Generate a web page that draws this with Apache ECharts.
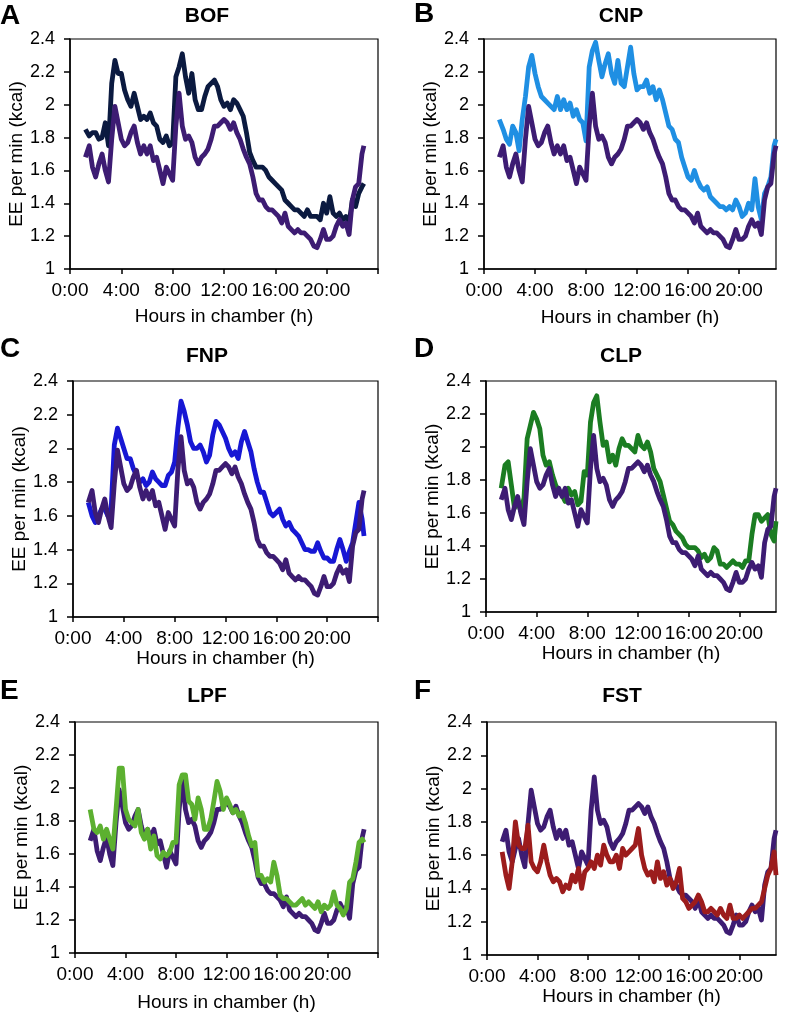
<!DOCTYPE html>
<html>
<head>
<meta charset="utf-8">
<script src="https://cdn.jsdelivr.net/npm/echarts@6/dist/echarts.min.js"></script>
<style>
html,body{margin:0;padding:0;background:#fff;}
#chart{width:792px;height:1015px;}
</style>
</head>
<body>
<div id="chart"></div>
<script>
// ---------- DATA ----------
const hours = [1.2,1.5,1.75,
 2,2.25,2.5,2.75, 3,3.25,3.5,3.75, 4,4.25,4.5,4.75, 5,5.25,5.5,5.75,
 6,6.25,6.5,6.75, 7,7.25,7.5,7.75, 8,8.25,8.5,8.75, 9,9.25,9.5,9.75,
 10,10.25,10.5,10.75, 11,11.25,11.5,11.75, 12,12.25,12.5,12.75, 13,13.25,13.5,13.75,
 14,14.25,14.5,14.75, 15,15.25,15.5,15.75, 16,16.25,16.5,16.75, 17,17.25,17.5,17.75,
 18,18.25,18.5,18.75, 19,19.25,19.5,19.75, 20,20.25,20.5,20.75, 21,21.25,21.5,21.75,
 22,22.25,22.5,22.75, 22.9];

// reference (purple) curve shown in every panel
const baseline = [1.68,1.75,1.62,
 1.56,1.64,1.70,1.60, 1.53,1.79,1.99,1.89, 1.79,1.75,1.77,1.83, 1.87,1.77,1.70,1.75,
 1.70,1.75,1.66,1.68, 1.60,1.52,1.62,1.58, 1.54,1.87,2.07,1.87, 1.79,1.81,1.77,1.68,
 1.64,1.68,1.70,1.73, 1.79,1.87,1.87,1.89, 1.91,1.89,1.85,1.89, 1.83,1.79,1.73,1.68,
 1.64,1.56,1.46,1.42, 1.42,1.38,1.36,1.36, 1.34,1.32,1.28,1.34, 1.26,1.24,1.22,1.24,
 1.22,1.22,1.20,1.18, 1.14,1.13,1.18,1.24, 1.18,1.18,1.20,1.26, 1.30,1.26,1.28,1.21,
 1.42,1.50,1.52,1.70, 1.75];

const bof = [1.85,1.81,1.83,
 1.83,1.79,1.80,1.89, 1.75,2.13,2.27,2.19, 2.19,2.09,2.03,1.99, 2.07,1.99,1.91,1.93,
 1.91,1.95,1.89,1.87, 1.79,1.77,1.81,1.75, 1.77,2.17,2.23,2.31, 2.17,2.07,2.19,2.03,
 1.97,1.97,2.05,2.11, 2.13,2.15,2.11,2.03, 1.99,2.01,1.97,2.03, 2.01,1.97,1.93,1.83,
 1.71,1.66,1.62,1.62, 1.62,1.60,1.56,1.54, 1.52,1.50,1.48,1.42, 1.40,1.38,1.36,1.36,
 1.34,1.32,1.36,1.32, 1.32,1.32,1.30,1.40, 1.34,1.44,1.34,1.32, 1.34,1.30,1.32,1.28,
 1.42,1.38,1.46,1.50, 1.52];

const cnp = [1.91,1.85,1.79,
 1.76,1.87,1.83,1.72, 1.91,2.05,2.23,2.30, 2.19,2.11,2.05,2.03, 2.01,1.99,1.97,2.05,
 1.97,2.03,1.97,2.01, 1.93,1.97,1.91,1.89, 1.78,2.23,2.33,2.38, 2.27,2.17,2.25,2.31,
 2.19,2.13,2.27,2.13, 2.11,2.23,2.35,2.19, 2.09,2.11,2.11,2.15, 2.07,2.11,2.03,2.09,
 2.03,1.95,1.87,1.85, 1.79,1.77,1.68,1.62, 1.56,1.54,1.60,1.54, 1.50,1.48,1.50,1.44,
 1.42,1.40,1.38,1.38, 1.36,1.38,1.36,1.42, 1.38,1.32,1.34,1.40, 1.36,1.55,1.38,1.30,
 1.46,1.50,1.56,1.75, 1.79];

const fnp = [1.68,1.60,1.56,
 1.60,1.64,1.64,1.60, 1.64,2.02,2.12,2.06, 2.00,1.94,1.94,1.88, 1.84,1.80,1.82,1.78,
 1.80,1.86,1.82,1.80, 1.78,1.78,1.84,1.86, 1.92,2.12,2.28,2.22, 2.14,2.04,2.00,2.00,
 2.02,1.98,1.92,1.96, 2.08,2.16,2.14,2.10, 2.06,2.00,1.96,1.98, 1.94,2.04,2.10,2.04,
 1.98,1.88,1.80,1.74, 1.74,1.68,1.62,1.60, 1.62,1.64,1.58,1.54, 1.56,1.52,1.50,1.48,
 1.44,1.40,1.40,1.39, 1.39,1.44,1.39,1.35, 1.35,1.33,1.33,1.40, 1.46,1.40,1.33,1.39,
 1.44,1.56,1.68,1.58, 1.48];

const clp = [1.75,1.89,1.91,
 1.77,1.63,1.67,1.61, 1.69,2.05,2.13,2.21, 2.17,2.11,1.95,1.89, 1.91,1.83,1.77,1.73,
 1.71,1.67,1.75,1.71, 1.73,1.65,1.67,1.85, 1.83,2.15,2.27,2.31, 2.15,2.01,2.03,1.91,
 1.95,1.89,1.99,2.05, 2.01,2.01,1.99,1.97, 2.07,2.01,1.99,2.03, 1.97,1.87,1.83,1.79,
 1.71,1.63,1.55,1.53, 1.49,1.47,1.45,1.41, 1.39,1.39,1.39,1.37, 1.33,1.35,1.31,1.33,
 1.39,1.37,1.29,1.29, 1.27,1.29,1.31,1.29, 1.29,1.27,1.31,1.31, 1.47,1.59,1.59,1.55,
 1.57,1.59,1.47,1.43, 1.55];

const lpf = [1.87,1.75,1.73,
 1.77,1.69,1.75,1.69, 1.63,1.87,2.12,2.12, 1.87,1.81,1.79,1.77, 1.87,1.73,1.69,1.75,
 1.63,1.71,1.59,1.57, 1.61,1.59,1.61,1.67, 1.67,2.02,2.08,2.08, 1.92,1.90,1.81,1.94,
 1.87,1.75,1.75,1.81, 1.92,2.04,1.98,1.87, 1.94,1.90,1.85,1.87, 1.83,1.85,1.79,1.71,
 1.65,1.67,1.47,1.47, 1.43,1.45,1.43,1.55, 1.47,1.35,1.33,1.33, 1.31,1.29,1.29,1.31,
 1.33,1.29,1.31,1.29, 1.27,1.31,1.25,1.29, 1.27,1.29,1.37,1.29, 1.27,1.23,1.27,1.43,
 1.45,1.55,1.67,1.69, 1.67];

const fst = [1.62,1.48,1.40,
 1.56,1.80,1.66,1.64, 1.64,1.78,1.56,1.52, 1.50,1.56,1.66,1.56, 1.48,1.44,1.46,1.44,
 1.38,1.42,1.40,1.48, 1.44,1.52,1.40,1.50, 1.52,1.56,1.52,1.60, 1.54,1.66,1.60,1.56,
 1.56,1.60,1.52,1.64, 1.60,1.62,1.64,1.66, 1.76,1.60,1.52,1.48, 1.50,1.44,1.56,1.46,
 1.50,1.42,1.46,1.40, 1.44,1.52,1.34,1.32, 1.28,1.30,1.32,1.36, 1.32,1.26,1.26,1.28,
 1.26,1.24,1.28,1.24, 1.22,1.30,1.22,1.22, 1.24,1.22,1.24,1.26, 1.28,1.28,1.30,1.32,
 1.40,1.48,1.52,1.62, 1.48];

const panelLetters = ['A','B','C','D','E','F'];
const panelTitles = ['BOF','CNP','FNP','CLP','LPF','FST'];
const panelValues = [bof, cnp, fnp, clp, lpf, fst];
const xTickLabels = ['0:00','4:00','8:00','12:00','16:00','20:00'];
const xAxisName = 'Hours in chamber (h)';
const yAxisName = 'EE per min (kcal)';

// ---------- STYLE / LAYOUT ----------
const baselineColor = '#3d1c73';
const panelColors = ['#0b1a40','#1f8fe3','#1717d4','#1b7d22','#5cb030','#9c1c1c'];
const baselineOnTop = [true,true,true,true,false,false];
const layout = [
  {left:70,  top:39,  width:308, height:230, xMax:24,   nameGap:38, tx:207, ty:6,   lx:0,   ly:2},
  {left:484, top:39,  width:292, height:230, xMax:22.9, nameGap:39, tx:621, ty:6,   lx:414, ly:0},
  {left:73,  top:381, width:305, height:236, xMax:24,   nameGap:29, tx:207, ty:346, lx:0,   ly:335},
  {left:486, top:381, width:290, height:231, xMax:22.9, nameGap:32, tx:621, ty:346, lx:414, ly:335},
  {left:75,  top:722, width:303, height:231, xMax:24,   nameGap:40, tx:207, ty:686, lx:0,   ly:677},
  {left:487, top:722, width:289, height:233, xMax:22.9, nameGap:29, tx:622, ty:686, lx:414, ly:677}
];
const FONT = '"Liberation Sans", Arial, Helvetica, sans-serif';

const grids = [], xAxes = [], yAxes = [], series = [], graphics = [];
layout.forEach((L, i) => {
  grids.push({left:L.left, top:L.top, width:L.width, height:L.height,
    show:true, borderColor:'#000', borderWidth:1.2, containLabel:false});
  xAxes.push({type:'value', gridIndex:i, min:0, max:L.xMax, interval:4,
    name:xAxisName, nameLocation:'middle', nameGap:L.nameGap,
    nameTextStyle:{fontFamily:FONT, fontSize:19, color:'#000'},
    axisLine:{show:true, lineStyle:{color:'#000', width:1.5}},
    axisTick:{show:true, inside:false, length:5, lineStyle:{color:'#000', width:1.5}},
    splitLine:{show:false},
    axisLabel:{fontFamily:FONT, fontSize:19, color:'#000', margin:12, showMaxLabel:L.xMax<24 ? false : true,
      formatter:v => { const k = Math.round(v/4); return (k < xTickLabels.length && Math.abs(v-k*4)<1e-6) ? xTickLabels[k] : ''; }}
  });
  yAxes.push({type:'value', gridIndex:i, min:1, max:2.4, interval:0.2,
    name:yAxisName, nameLocation:'middle', nameGap:44,
    nameTextStyle:{fontFamily:FONT, fontSize:19, color:'#000'},
    axisLine:{show:true, lineStyle:{color:'#000', width:1.5}},
    axisTick:{show:true, inside:false, length:6, lineStyle:{color:'#000', width:1.5}},
    splitLine:{show:false},
    axisLabel:{fontFamily:FONT, fontSize:18, color:'#000', margin:15,
      formatter:v => String(+v.toFixed(1))}
  });
  const cond = {type:'line', xAxisIndex:i, yAxisIndex:i, name:panelTitles[i],
    data:hours.map((h,k)=>[h, panelValues[i][k]]), showSymbol:false, symbol:'none',
    lineStyle:{color:panelColors[i], width:4.8, join:'round'}, itemStyle:{color:panelColors[i]},
    z: baselineOnTop[i] ? 2 : 3};
  const base = {type:'line', xAxisIndex:i, yAxisIndex:i, name:'baseline',
    data:hours.map((h,k)=>[h, baseline[k]]), showSymbol:false, symbol:'none',
    lineStyle:{color:baselineColor, width:4.8, join:'round'}, itemStyle:{color:baselineColor},
    z: baselineOnTop[i] ? 3 : 2};
  series.push(cond, base);
  graphics.push({type:'text', x:L.tx, y:L.ty, style:{text:panelTitles[i], fill:'#000',
    font:'bold 21px ' + FONT, textAlign:'center', textVerticalAlign:'top', align:'center', verticalAlign:'top'}});
  graphics.push({type:'text', x:L.lx, y:L.ly, style:{text:panelLetters[i], fill:'#000',
    font:'bold 28px ' + FONT, textAlign:'left', textVerticalAlign:'top', align:'left', verticalAlign:'top'}});
});

const chart = echarts.init(document.getElementById('chart'), null, {renderer:'canvas'});
chart.setOption({
  animation:false,
  backgroundColor:'#fff',
  grid:grids, xAxis:xAxes, yAxis:yAxes, series:series, graphic:graphics
});
</script>
</body>
</html>
